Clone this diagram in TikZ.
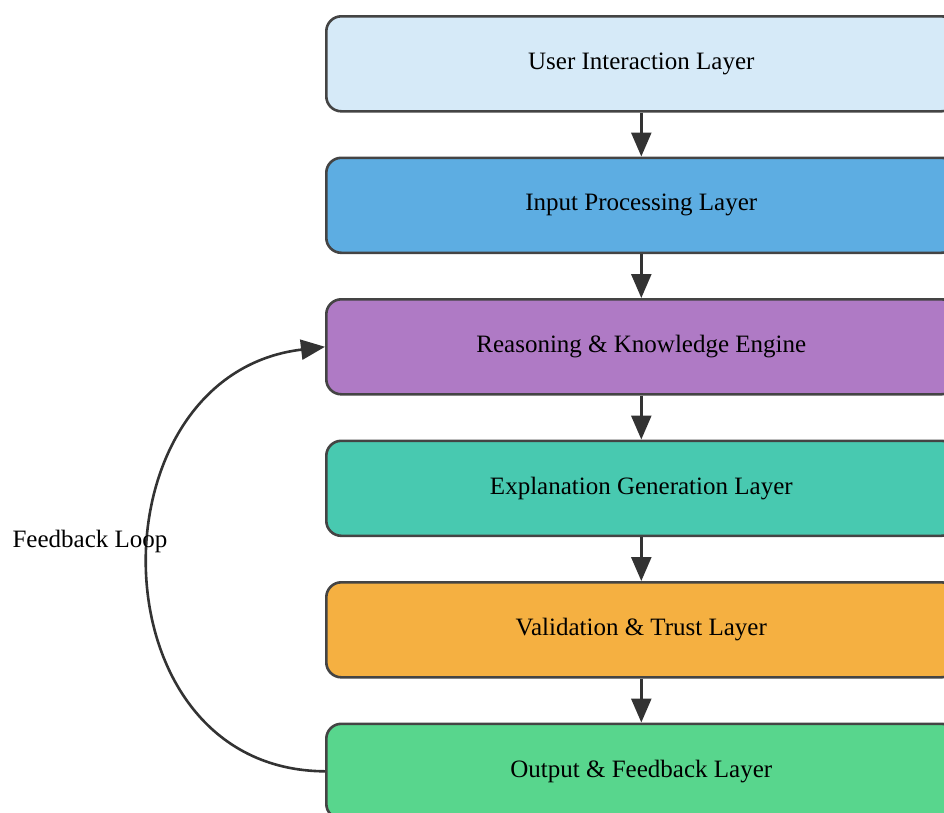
\documentclass[tikz,border=0pt]{standalone}
\usepackage{fontspec}
\setmainfont{Liberation Serif}
\usetikzlibrary{arrows.meta}
\definecolor{c1}{HTML}{D6EAF8}
\definecolor{c2}{HTML}{5DADE2}
\definecolor{c3}{HTML}{AF7AC5}
\definecolor{c4}{HTML}{48C9B0}
\definecolor{c5}{HTML}{F5B041}
\definecolor{c6}{HTML}{58D68D}
\definecolor{edge}{HTML}{444444}
\definecolor{arr}{HTML}{333333}
\begin{document}
\begin{tikzpicture}[x=1pt,y=-1pt,
  layer/.style={draw=edge,line width=2.6pt,rounded corners=15pt,minimum width=630pt,minimum height=95pt,inner sep=0pt,anchor=north west,font=\fontsize{25}{30}\selectfont},
  flow/.style={draw=arr,line width=2.6pt,-{Triangle[length=24pt,width=20pt]}}]
\useasboundingbox (0,0) rectangle (944,812);
\clip (0,0) rectangle (944,812);
\node[layer,fill=c1] (l1) at (325,15) {User Interaction Layer};
\node[layer,fill=c2] (l2) at (325,156.5) {Input Processing Layer};
\node[layer,fill=c3] (l3) at (325,298) {Reasoning \& Knowledge Engine};
\node[layer,fill=c4] (l4) at (325,439.5) {Explanation Generation Layer};
\node[layer,fill=c5] (l5) at (325,581) {Validation \& Trust Layer};
\node[layer,fill=c6] (l6) at (325,722.5) {Output \& Feedback Layer};
\draw[flow] (l1) -- (l2);
\draw[flow] (l2) -- (l3);
\draw[flow] (l3) -- (l4);
\draw[flow] (l4) -- (l5);
\draw[flow] (l5) -- (l6);
\draw[flow] (l6.west) .. controls (91,770) and (89,375) .. (l3.west);
\node[font=\fontsize{25}{30}\selectfont,inner sep=0pt] (fb) at (90,541) {Feedback Loop};
\end{tikzpicture}
\end{document}
